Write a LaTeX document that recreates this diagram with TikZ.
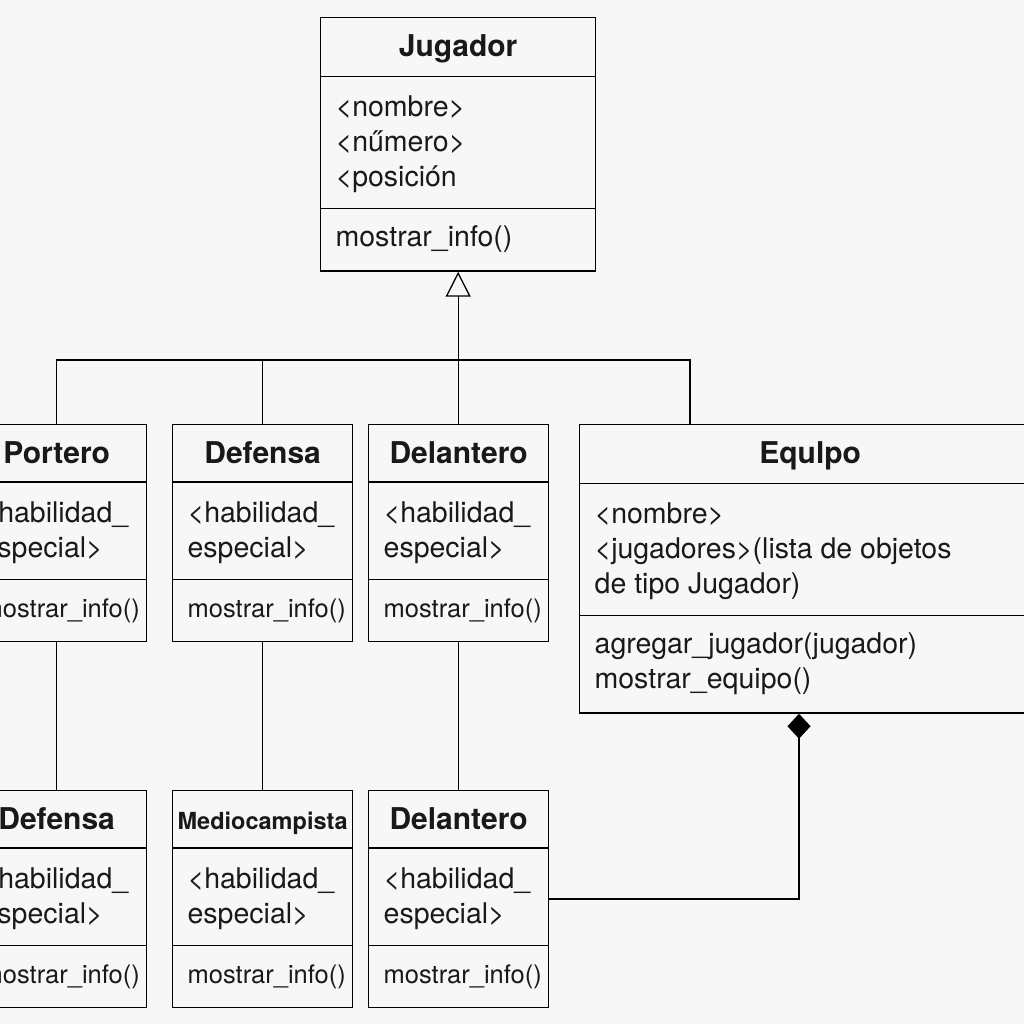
\documentclass[tikz,border=0pt]{standalone}
\usepackage{fontspec}
\setmainfont{TeX Gyre Heros}
\usepackage{tikz}
\usetikzlibrary{shapes.multipart}
\usetikzlibrary{arrows.meta}

\newcommand{\umlfont}{\fontsize{28.5}{35}\selectfont}
\newcommand{\titlefont}{\fontsize{30}{30}\selectfont\bfseries}
\newcommand{\methfont}{\fontsize{25.5}{35}\selectfont}
\newcommand{\tstrut}{\rule[-5pt]{0pt}{30pt}}
\newcommand{\astrut}{\rule[-8.5pt]{0pt}{35pt}}

\begin{document}
\begin{tikzpicture}[x=1pt,y=-1pt,
        umlclass/.style={draw, line width=1.3pt, rectangle split, rectangle split parts=3,
                rectangle split part align={center,left,left}, align=left,
                inner xsep=15pt, inner ysep=13pt, minimum width=180pt,
                anchor=north west, font=\umlfont, text=black!90},
        gen/.style={-{Triangle[open, length=25pt, width=25pt]}},
        comp/.style={-{Diamond[length=25pt, width=23pt]}}]
        	\useasboundingbox (0,0) rectangle (1024,1024);
        	\clip (0,0) rectangle (1024,1024);
        	\fill[black!3] (0,0) rectangle (1024,1024);
        	\begin{scope}[line width=1.3pt]
        	% clases
        	\node[umlclass, minimum width=275pt] (jugador) at (320,17)
        		{\titlefont\tstrut Jugador\nodepart{two}\astrut<nombre>\\<nűmero>\\<posición\astrut
        		 \nodepart{three}\strut mostrar\_info()};
        	\foreach \nm/\x/\y/\ttl in {portero/-34/424/Portero, defensa/172/424/Defensa,
        			delantero/368/424/Delantero, defensab/-34/790/Defensa, delanterob/368/790/Delantero}
        		\node[umlclass] (\nm) at (\x,\y)
        			{\titlefont\tstrut\makebox[150pt]{\ttl}\nodepart{two}\astrut<habilidad\_\\especial>\astrut
        			 \nodepart{three}\methfont\strut\makebox[150pt][l]{mostrar\_info()}};
        	\node[umlclass] (medio) at (172,790)
        		{\titlefont\tstrut\makebox[150pt]{\fontsize{23.5}{30}\selectfont Mediocampista}\nodepart{two}\astrut<habilidad\_\\especial>\astrut
        		 \nodepart{three}\methfont\strut\makebox[150pt][l]{mostrar\_info()}};
        	\node[umlclass, minimum width=461pt] (equipo) at (579,424)
        		{\titlefont\tstrut Equlpo\nodepart{two}\astrut<nombre>\\<jugadores>(lista de objetos\\de tipo Jugador)\astrut
        		 \nodepart{three}\strut agregar\_jugador(jugador)\\mostrar\_equipo()\strut};
        	% conectores
        	\coordinate (bus) at (0,360);
        	\coordinate (eqtop) at ([xshift=111pt]equipo.north west);
        	\coordinate (eqbot) at ([xshift=220pt]equipo.south west);
        	\draw (portero.north) |- (eqtop |- bus) -- (eqtop);
        	\draw (defensa.north) -- (defensa.north |- bus);
        	\draw[gen] (jugador.south |- delantero.north) -- (jugador.south);
        	\foreach \a/\b in {portero/defensab, defensa/medio, delantero/delanterob}
        		\draw (\a.south) -- (\b.north);
        	\draw[comp] (delanterob.east) -| (eqbot);
        	\end{scope}
        \end{tikzpicture}
\end{document}
